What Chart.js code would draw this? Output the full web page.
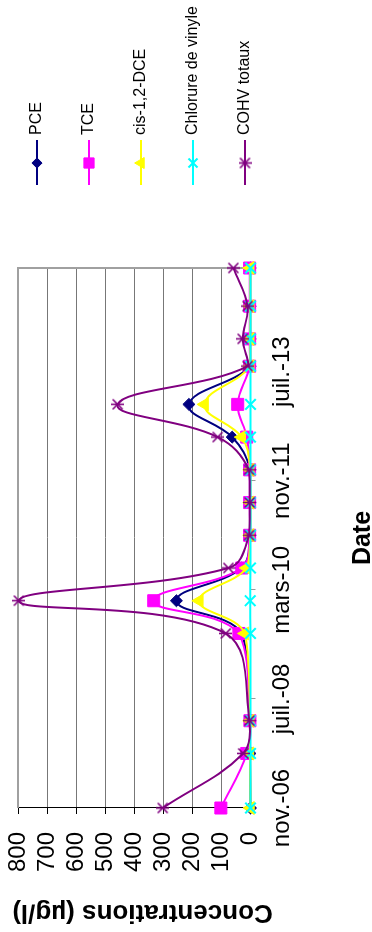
<!DOCTYPE html>
<html><head><meta charset="utf-8">
<script src="https://cdn.jsdelivr.net/npm/chart.js@4.4.1/dist/chart.umd.min.js"></script>
<style>
html,body{margin:0;padding:0;background:#fff;width:372px;height:932px;overflow:hidden;}
#wrap{position:absolute;left:0;top:0;width:932px;height:372px;transform-origin:0 0;transform:translate(0,932px) rotate(-90deg);}
canvas{display:block;}
</style></head><body>
<div id="wrap"><canvas id="c" width="932" height="372"></canvas></div>
<script>
// ---- data ----
const sampleDates = ['2006-11','2007-09','2008-03','2009-07','2010-01','2010-07','2011-01','2011-07','2012-01','2012-07','2013-01','2013-08','2014-01','2014-07','2015-02'];
const seriesNames = ['PCE','TCE','cis-1,2-DCE','Chlorure de vinyle','COHV totaux'];
const pce  = [0, 2, 1, 30, 255, 32, 1, 1, 1, 63, 212, 1, 1, 1, 1];
const tce  = [102, 13, 2, 40, 333, 30, 3, 3, 3, 13, 44, 3, 3, 3, 3];
const cis  = [0, 2, 1, 19, 176, 13, 1, 1, 1, 30, 158, 1, 1, 1, 1];
const cv   = [0, 0, 0, 0, 1, 0, 0, 0, 0, 0, 0, 0, 0, 0, 0];
const cohv = [302, 25, 4, 85, 797, 76, 5, 3, 5, 113, 457, 10, 27, 10, 59];
const tickDates  = ['2006-11','2008-07','2010-03','2011-11','2013-07'];
const tickLabels = ['nov.-06','juil.-08','mars-10','nov.-11','juil.-13'];
const valueMin = 0, valueMax = 800, valueStep = 100;
const xTitle = 'Date';
const yTitle = 'Concentrations (µg/l)';

// ---- helpers ----
function monthIndex(s){ const p = s.split('-').map(Number); return (p[0]-2006)*12 + (p[1]-11); }
const xs = sampleDates.map(monthIndex);
const pts = arr => arr.map((v,i)=>({x: xs[i], y: v}));

function starCanvas(color){
  const c = document.createElement('canvas'); c.width = 13; c.height = 13;
  const g = c.getContext('2d'); g.strokeStyle = color; g.lineWidth = 1.6;
  g.beginPath();
  g.moveTo(1.5,1.5); g.lineTo(11.5,11.5);
  g.moveTo(11.5,1.5); g.lineTo(1.5,11.5);
  g.moveTo(6.5,0); g.lineTo(6.5,13);
  g.stroke();
  return c;
}

const FONT = "'Liberation Sans', Arial, sans-serif";
const colors = ['#000080','#FF00FF','#FFFF00','#00FFFF','#800080'];
const styles = ['rectRot','rect','triangle','crossRot', starCanvas('#800080')];
const radii  = [6, 8.5, 7.5, 7.5, 6.5];
const bws    = [1, 1, 1, 2, 1];
const values = [pce, tce, cis, cv, cohv];
const orders = [4, 3, 2, 1, 0];

const datasets = values.map((arr,i)=>({
  label: seriesNames[i],
  data: pts(arr),
  borderColor: colors[i],
  backgroundColor: colors[i],
  borderWidth: 2,
  tension: 0.4,
  pointStyle: styles[i],
  pointRadius: radii[i],
  pointBorderWidth: bws[i],
  pointBackgroundColor: colors[i],
  pointBorderColor: colors[i],
  clip: false,
  order: orders[i]
}));

const frame = {
  id: 'frame',
  beforeDatasetsDraw(chart){
    const {ctx, chartArea:a} = chart;
    ctx.save(); ctx.strokeStyle = '#a0a0a0'; ctx.lineWidth = 2;
    ctx.beginPath(); ctx.moveTo(a.left, a.top); ctx.lineTo(a.right, a.top); ctx.lineTo(a.right, a.bottom); ctx.stroke();
    ctx.restore();
  }
};

const legend = {
  id: 'customLegend',
  afterDraw(chart){
    const ctx = chart.ctx;
    ctx.save();
    chart.data.datasets.forEach((ds,i)=>{
      const v = 37 + 52*i;
      ctx.strokeStyle = ds.borderColor; ctx.lineWidth = 2;
      ctx.beginPath(); ctx.moveTo(747, v); ctx.lineTo(792, v); ctx.stroke();
      ctx.fillStyle = ds.pointBackgroundColor; ctx.strokeStyle = ds.pointBorderColor;
      ctx.lineWidth = ds.pointBorderWidth;
      Chart.helpers.drawPoint(ctx, {pointStyle: ds.pointStyle, radius: ds.pointRadius*0.85, rotation: 0, borderWidth: ds.pointBorderWidth}, 769, v);
      ctx.fillStyle = '#000'; ctx.font = '16px ' + FONT; ctx.textBaseline = 'middle'; ctx.textAlign = 'left';
      ctx.fillText(ds.label, 797, v);
    });
    // value-axis title (placed like the original, slightly below the plot centre)
    ctx.translate(20, 142.5);
    ctx.rotate(-Math.PI/2);
    ctx.fillStyle = '#000'; ctx.font = 'bold 26px ' + FONT; ctx.textAlign = 'center'; ctx.textBaseline = 'middle';
    ctx.fillText(yTitle, 0, 0);
    ctx.restore();
  }
};

new Chart(document.getElementById('c'), {
  type: 'line',
  data: { datasets },
  plugins: [frame, legend],
  options: {
    responsive: false, animation: false, events: [],
    layout: { autoPadding: false, padding: { left: 0, top: 18, right: 268, bottom: 0 } },
    plugins: { legend: { display: false }, tooltip: { enabled: false } },
    scales: {
      x: {
        type: 'linear', position: 'bottom',
        min: xs[0], max: xs[xs.length-1],
        afterBuildTicks: ax => { ax.ticks = tickDates.map(d => ({ value: monthIndex(d) })); },
        afterFit: ax => { ax.height = 121.5; },
        ticks: { autoSkip: false, maxRotation: 0, minRotation: 0, padding: 12, color: '#000',
          font: { family: FONT, size: 24 },
          callback: (val, idx) => tickLabels[idx] },
        grid: { drawOnChartArea: false, drawTicks: true, tickLength: 5, color: '#999' },
        border: { color: '#000', width: 1 },
        title: { display: true, text: xTitle, color: '#000', padding: { top: 0, bottom: -4 },
          font: { family: FONT, size: 25, weight: 'bold', lineHeight: 1 } }
      },
      y: {
        type: 'linear', position: 'left',
        min: valueMin, max: valueMax,
        afterFit: ax => { ax.width = 124; ax.paddingTop = 0; ax.paddingBottom = 0; },
        ticks: { stepSize: valueStep, autoSkip: false, padding: 18, color: '#000', font: { family: FONT, size: 24 } },
        grid: { color: c => c.tick && c.tick.value === valueMax ? 'rgba(0,0,0,0)' : '#777', tickColor: '#000', tickLength: 6, lineWidth: 1 },
        border: { color: '#000', width: 1 },
        title: { display: false }
      }
    }
  }
});
</script>
</body></html>
